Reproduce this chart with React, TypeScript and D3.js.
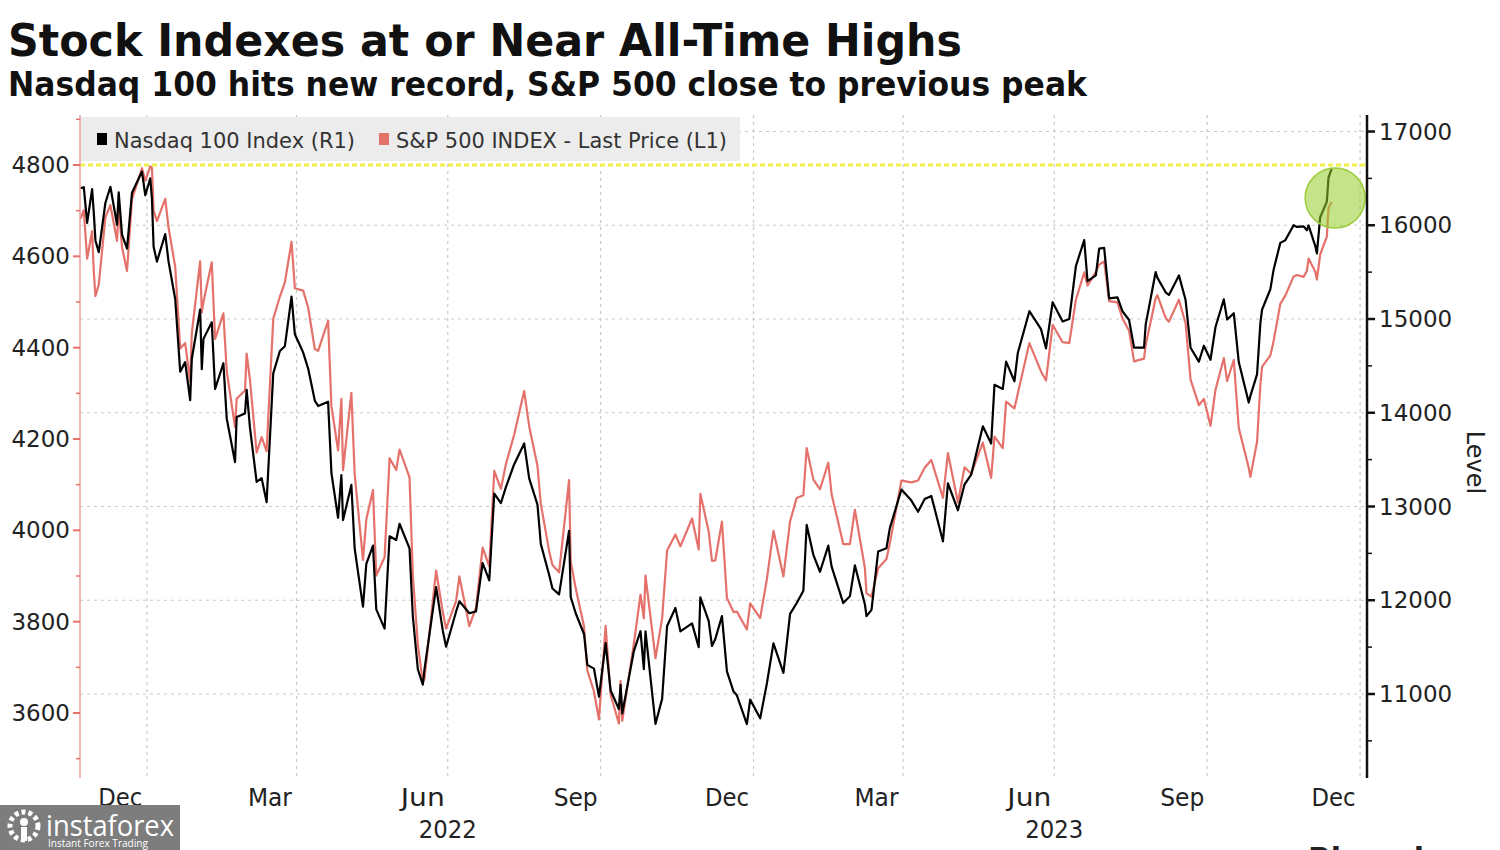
import React from "react";
import * as d3 from "d3";

const title = "Stock Indexes at or Near All-Time Highs";
const subtitle = "Nasdaq 100 hits new record, S&P 500 close to previous peak";
const seriesNames = ["Nasdaq 100 Index (R1)", "S&P 500 INDEX - Last Price (L1)"];

// observation dates (month by month)
const dates = [
  "2021-11-22", "2021-11-24", "2021-11-26", "2021-11-29", "2021-11-30",
  "2021-12-01", "2021-12-03", "2021-12-07", "2021-12-10", "2021-12-14", "2021-12-15", "2021-12-17", "2021-12-20", "2021-12-23", "2021-12-29", "2021-12-31",
  "2022-01-03", "2022-01-04", "2022-01-05", "2022-01-07", "2022-01-12", "2022-01-14", "2022-01-18", "2022-01-21", "2022-01-24", "2022-01-27", "2022-01-28",
  "2022-02-02", "2022-02-03", "2022-02-04", "2022-02-09", "2022-02-11", "2022-02-16", "2022-02-18", "2022-02-23", "2022-02-24",
  "2022-03-01", "2022-03-02", "2022-03-04", "2022-03-08", "2022-03-11", "2022-03-14", "2022-03-18", "2022-03-22", "2022-03-25", "2022-03-29", "2022-03-31",
  "2022-04-05", "2022-04-08", "2022-04-12", "2022-04-14", "2022-04-20", "2022-04-22", "2022-04-26", "2022-04-28", "2022-04-29",
  "2022-05-04", "2022-05-06", "2022-05-11", "2022-05-13", "2022-05-17", "2022-05-19", "2022-05-24", "2022-05-27", "2022-05-31",
  "2022-06-02", "2022-06-08", "2022-06-10", "2022-06-13", "2022-06-16", "2022-06-17", "2022-06-24", "2022-06-28", "2022-06-30",
  "2022-07-06", "2022-07-08", "2022-07-14", "2022-07-18", "2022-07-22", "2022-07-26", "2022-07-29",
  "2022-08-02", "2022-08-05", "2022-08-10", "2022-08-16", "2022-08-19", "2022-08-24", "2022-08-26", "2022-08-31",
  "2022-09-02", "2022-09-06", "2022-09-12", "2022-09-13", "2022-09-16", "2022-09-21", "2022-09-23", "2022-09-27", "2022-09-30",
  "2022-10-04", "2022-10-07", "2022-10-12", "2022-10-13", "2022-10-14", "2022-10-21", "2022-10-25", "2022-10-27", "2022-10-28",
  "2022-11-03", "2022-11-07", "2022-11-10", "2022-11-15", "2022-11-18", "2022-11-25", "2022-11-29", "2022-11-30",
  "2022-12-05", "2022-12-07", "2022-12-09", "2022-12-13", "2022-12-16", "2022-12-20", "2022-12-22", "2022-12-28", "2022-12-30",
  "2023-01-05", "2023-01-09", "2023-01-13", "2023-01-19", "2023-01-23", "2023-01-27", "2023-01-31",
  "2023-02-02", "2023-02-06", "2023-02-10", "2023-02-15", "2023-02-17", "2023-02-24", "2023-02-28",
  "2023-03-03", "2023-03-09", "2023-03-10", "2023-03-13", "2023-03-17", "2023-03-22", "2023-03-24", "2023-03-31",
  "2023-04-06", "2023-04-10", "2023-04-14", "2023-04-18", "2023-04-25", "2023-04-28",
  "2023-05-04", "2023-05-08", "2023-05-12", "2023-05-19", "2023-05-24", "2023-05-26", "2023-05-31",
  "2023-06-02", "2023-06-07", "2023-06-09", "2023-06-16", "2023-06-23", "2023-06-26", "2023-06-30",
  "2023-07-06", "2023-07-10", "2023-07-14", "2023-07-19", "2023-07-21", "2023-07-26", "2023-07-28", "2023-07-31",
  "2023-08-03", "2023-08-08", "2023-08-11", "2023-08-15", "2023-08-18", "2023-08-24", "2023-08-25", "2023-08-31",
  "2023-09-01", "2023-09-06", "2023-09-08", "2023-09-14", "2023-09-18", "2023-09-21", "2023-09-26", "2023-09-29",
  "2023-10-03", "2023-10-06", "2023-10-11", "2023-10-13", "2023-10-17", "2023-10-20", "2023-10-26", "2023-10-27", "2023-10-31",
  "2023-11-02", "2023-11-03", "2023-11-08", "2023-11-10", "2023-11-14", "2023-11-17", "2023-11-22", "2023-11-24", "2023-11-28", "2023-11-30",
  "2023-12-01", "2023-12-05", "2023-12-06", "2023-12-08", "2023-12-12", "2023-12-13", "2023-12-15",
];

// S&P 500 (left axis)
const spx = [
  4682, 4701, 4595, 4655, 4567,
  4513, 4538, 4686, 4712, 4634, 4709, 4620, 4568, 4725, 4793, 4766,
  4797, 4794, 4700, 4677, 4726, 4663, 4577, 4398, 4410, 4326, 4432,
  4589, 4477, 4500, 4587, 4419, 4475, 4349, 4226, 4288,
  4306, 4387, 4329, 4170, 4204, 4173, 4463, 4512, 4543, 4632, 4530,
  4525, 4488, 4397, 4393, 4459, 4272, 4175, 4288, 4132,
  4301, 4123, 3935, 4024, 4088, 3901, 3941, 4158, 4132,
  4177, 4116, 3901, 3750, 3667, 3675, 3912, 3821, 3785,
  3845, 3899, 3790, 3831, 3962, 3921, 4130,
  4091, 4145, 4210, 4305, 4228, 4141, 4058, 3955,
  3924, 3908, 4110, 3932, 3873, 3790, 3693, 3647, 3586,
  3791, 3640, 3577, 3670, 3583, 3752, 3859, 3807, 3901,
  3720, 3807, 3956, 3991, 3965, 4026, 3958, 4080,
  3998, 3933, 3934, 4019, 3852, 3821, 3822, 3783, 3840,
  3808, 3892, 3999, 3899, 4020, 4071, 4077,
  4180, 4111, 4090, 4148, 4079, 3970, 3970,
  4045, 3918, 3862, 3855, 3917, 3937, 3971, 4109,
  4105, 4109, 4137, 4154, 4071, 4169,
  4061, 4138, 4124, 4192, 4115, 4205, 4180,
  4282, 4267, 4299, 4410, 4348, 4328, 4450,
  4412, 4410, 4505, 4565, 4536, 4566, 4582, 4589,
  4502, 4499, 4464, 4437, 4370, 4376, 4406, 4508,
  4515, 4465, 4457, 4505, 4453, 4330, 4274, 4288,
  4229, 4308, 4377, 4327, 4373, 4224, 4137, 4117, 4194,
  4318, 4358, 4383, 4415, 4496, 4514, 4556, 4559, 4555, 4568,
  4595, 4567, 4549, 4604, 4643, 4707, 4719,
];

// Nasdaq 100 (right axis)
const ndx = [
  16396, 16406, 16026, 16385, 16135,
  15838, 15712, 16240, 16410, 16006, 16351, 15899, 15750, 16347, 16573, 16320,
  16501, 16280, 15771, 15612, 15905, 15612, 15213, 14438, 14540, 14134, 14576,
  15101, 14465, 14788, 14965, 14253, 14528, 13937, 13474, 13954,
  13992, 14244, 13838, 13263, 13302, 13047, 14420, 14659, 14710, 15240, 14838,
  14642, 14471, 14130, 14072, 14118, 13357, 12880, 13334, 12855,
  13230, 12550, 11931, 12388, 12583, 11903, 11698, 12682, 12643,
  12816, 12553, 11827, 11264, 11099, 11263, 12141, 11678, 11504,
  11878, 11989, 11862, 11881, 12396, 12212, 13138,
  13037, 13207, 13451, 13672, 13300, 13020, 12601, 12272,
  12125, 12062, 12740, 12035, 11861, 11640, 11311, 11271, 10971,
  11542, 11038, 10840, 11098, 10792, 11458, 11670, 11265, 11667,
  10680, 10948, 11725, 11918, 11668, 11753, 11500, 12031,
  11780, 11512, 11586, 11831, 11241, 11026, 10986, 10679, 10940,
  10741, 11108, 11541, 11225, 11854, 11971, 12101,
  12803, 12485, 12304, 12583, 12359, 11970, 12042,
  12372, 11958, 11830, 11897, 12520, 12555, 12767, 13181,
  13063, 12944, 13079, 13113, 12629, 13246,
  12960, 13237, 13340, 13855, 13672, 14298, 14254,
  14546, 14336, 14634, 15083, 14891, 14687, 15179,
  14974, 15000, 15565, 15841, 15403, 15466, 15750, 15758,
  15220, 15230, 15083, 14989, 14695, 14695, 14941, 15501,
  15441, 15285, 15256, 15465, 15202, 14694, 14545, 14715,
  14565, 14915, 15209, 14995, 15062, 14541, 14109, 14180, 14410,
  14954, 15099, 15317, 15529, 15812, 15839, 16001, 15982, 15988, 15947,
  15998, 15780, 15700, 16085, 16252, 16507, 16610,
];

const leftTicks = [3600, 3800, 4000, 4200, 4400, 4600, 4800];
const leftMinorTicks = [3500, 3700, 3900, 4100, 4300, 4500, 4700, 4900];
const rightTicks = [11000, 12000, 13000, 14000, 15000, 16000, 17000];
const rightMinorTicks = [10500, 11500, 12500, 13500, 14500, 15500, 16500];
const monthTickLabels = ["Dec", "Mar", "Jun", "Sep", "Dec", "Mar", "Jun", "Sep", "Dec"];
const monthTickDates = [
  "2021-12-16", "2022-03-16", "2022-06-16", "2022-09-16", "2022-12-16",
  "2023-03-16", "2023-06-16", "2023-09-16", "2023-12-16",
];
const yearLabels = ["2022", "2023"];
const yearLabelDates = ["2022-07-01", "2023-07-01"];
const recordLevel = 4800;
const highlightDate = "2023-12-17";
const highlightLevel = 16290; // right-axis level of the circle centre

const FONT = "'DejaVu Sans', Verdana, sans-serif";
const PINK = "#e5716b";

export default function App() {
  const W = 1500;
  const H = 850;
  const left = 80;
  const right = 1367;
  const top = 115;
  const bottom = 778;

  const parse = d3.timeParse("%Y-%m-%d");
  const dts = dates.map((d) => parse(d) as Date);

  const x = d3
    .scaleTime()
    .domain([new Date(2021, 10, 21, 17), new Date(2024, 0, 5, 4)])
    .range([left, right]);
  const yL = d3.scaleLinear().domain([3600, 4800]).range([713, 165]);
  const yR = d3.scaleLinear().domain([11000, 17000]).range([694, 131.5]);

  const n = Math.min(dts.length, spx.length, ndx.length);
  const idx = d3.range(n);

  const lineSpx = d3
    .line<number>()
    .x((i) => x(dts[i]))
    .y((i) => yL(spx[i]));
  const lineNdx = d3
    .line<number>()
    .x((i) => x(dts[i]))
    .y((i) => yR(ndx[i]));

  const quarterGrid = d3.timeMonth.every(3)!.range(new Date(2022, 0, 1), new Date(2024, 0, 2));

  return (
    <div style={{ position: "fixed", left: 0, top: 0, width: W, height: H, background: "#fff" }}>
      <svg width={W} height={H} style={{ display: "block" }}>
        <rect x={0} y={0} width={W} height={H} fill="#fff" />
        {/* Titles */}
        <text x={8} y={56} fontFamily={FONT} fontWeight="bold" fontSize={45} fill="#111"
          textLength={954} lengthAdjust="spacingAndGlyphs">{title}</text>
        <text x={8} y={96} fontFamily={FONT} fontWeight="bold" fontSize={33} fill="#111"
          textLength={1079} lengthAdjust="spacingAndGlyphs">{subtitle}</text>

        {/* horizontal grid (right axis) */}
        {rightTicks.map((t) => (
          <line key={"hg" + t} x1={left} x2={right} y1={yR(t)} y2={yR(t)}
            stroke="#c9c9c9" strokeWidth={1.2} strokeDasharray="3,4" />
        ))}
        {/* vertical grid at quarter starts */}
        {quarterGrid.map((d, i) => (
          <line key={"vg" + i} x1={x(d)} x2={x(d)} y1={top} y2={bottom}
            stroke="#c9c9c9" strokeWidth={1.2} strokeDasharray="3,4" />
        ))}

        {/* legend */}
        <rect x={80} y={117} width={660} height={44} fill="#ececec" />
        <rect x={97} y={133} width={10} height={12} fill="#000" />
        <text x={114} y={148} fontFamily={FONT} fontSize={22} fill="#333"
          textLength={241} lengthAdjust="spacingAndGlyphs">{seriesNames[0]}</text>
        <rect x={379} y={133} width={10} height={12} fill={PINK} />
        <text x={396} y={148} fontFamily={FONT} fontSize={22} fill="#333"
          textLength={331} lengthAdjust="spacingAndGlyphs">{seriesNames[1]}</text>

        {/* record level line */}
        <line x1={left} x2={right} y1={yL(recordLevel)} y2={yL(recordLevel)}
          stroke="#f2f04a" strokeWidth={3} strokeDasharray="5,3" />

        {/* series */}
        <path d={lineSpx(idx) || ""} fill="none" stroke={PINK} strokeWidth={2.2} strokeLinejoin="round" />
        <path d={lineNdx(idx) || ""} fill="none" stroke="#000" strokeWidth={2.2} strokeLinejoin="round" />

        {/* highlight circle */}
        <circle cx={x(parse(highlightDate) as Date)} cy={yR(highlightLevel)} r={30}
          fill="rgba(150,205,40,0.55)" stroke="#9ccb3c" strokeWidth={1.5} />

        {/* left axis */}
        <line x1={left} x2={left} y1={top} y2={bottom} stroke="#e8a0a0" strokeWidth={1.5} />
        {leftTicks.map((t) => (
          <g key={"lt" + t}>
            <line x1={left - 7} x2={left} y1={yL(t)} y2={yL(t)} stroke={PINK} strokeWidth={2} />
            <text x={70} y={yL(t) + 8} textAnchor="end" fontFamily={FONT} fontSize={23} fill="#222">{t}</text>
          </g>
        ))}
        {leftMinorTicks.map((t) => (
          <line key={"lm" + t} x1={left - 4} x2={left} y1={yL(t)} y2={yL(t)} stroke={PINK} strokeWidth={1.5} />
        ))}

        {/* right axis */}
        <line x1={right} x2={right} y1={top} y2={bottom} stroke="#111" strokeWidth={2.5} />
        {rightTicks.map((t) => (
          <g key={"rt" + t}>
            <line x1={right} x2={right + 8} y1={yR(t)} y2={yR(t)} stroke="#111" strokeWidth={2.5} />
            <text x={1379} y={yR(t) + 8} fontFamily={FONT} fontSize={23} fill="#222">{t}</text>
          </g>
        ))}
        {rightMinorTicks.map((t) => (
          <line key={"rm" + t} x1={right} x2={right + 5} y1={yR(t)} y2={yR(t)} stroke="#111" strokeWidth={1.5} />
        ))}
        <text transform={`translate(1467, ${(top + bottom) / 2 + 16}) rotate(90)`} textAnchor="middle"
          fontFamily={FONT} fontSize={24} fill="#222">Level</text>

        {/* x axis labels */}
        {monthTickLabels.map((m, i) => (
          <text key={"m" + i} x={x(parse(monthTickDates[i]) as Date)} y={806} textAnchor="middle"
            fontFamily={FONT} fontSize={24} fill="#222" textLength={44} lengthAdjust="spacingAndGlyphs">{m}</text>
        ))}
        {yearLabels.map((yv, i) => (
          <text key={"y" + i} x={x(parse(yearLabelDates[i]) as Date)} y={838} textAnchor="middle"
            fontFamily={FONT} fontSize={24} fill="#222" textLength={58} lengthAdjust="spacingAndGlyphs">{yv}</text>
        ))}

        {/* source, mostly cut off */}
        <text x={1308} y={869} fontFamily={FONT} fontWeight="bold" fontSize={30} fill="#222">Bloomberg</text>

        {/* watermark */}
        <g>
          <rect x={0} y={805} width={180} height={45} fill="#7d7d7d" />
          <circle cx={24} cy={826} r={14} fill="none" stroke="#fff" strokeWidth={5} strokeDasharray="4,3" />
          <circle cx={24} cy={822} r={4} fill="#fff" />
          <rect x={21} y={827} width={6} height={14} fill="#fff" />
          <text x={46} y={836} fontFamily="'Open Sans', sans-serif" fontSize={30} fill="#fff"
            textLength={128} lengthAdjust="spacingAndGlyphs">instaforex</text>
          <text x={48} y={847} fontFamily="'Open Sans', sans-serif" fontSize={10} fill="#fff"
            textLength={100} lengthAdjust="spacingAndGlyphs">Instant Forex Trading</text>
        </g>
      </svg>
    </div>
  );
}
